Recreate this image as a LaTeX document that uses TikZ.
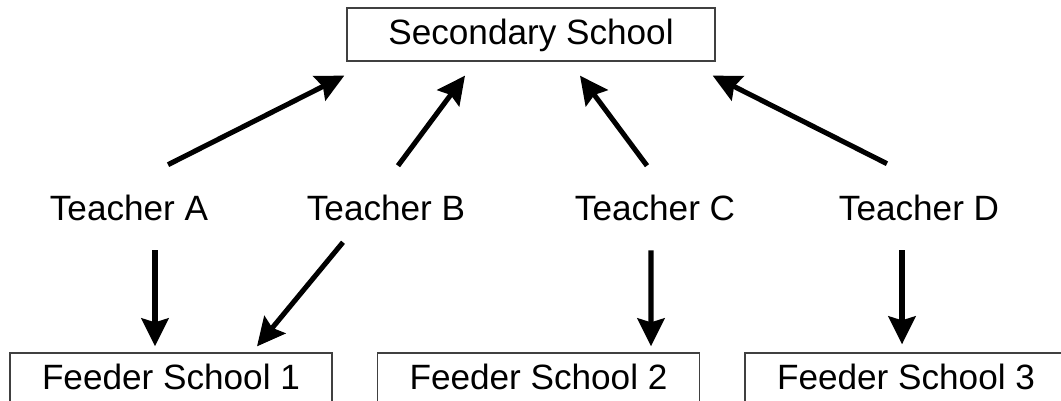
\documentclass[tikz,border=0pt]{standalone}
\usepackage{fontspec}
\setmainfont{Liberation Sans}
\usetikzlibrary{arrows.meta}

\begin{document}
\begin{tikzpicture}[
    x=0.025cm, y=-0.025cm,
    schoolbox/.style={rectangle, draw=black!75, line width=0.9pt, minimum height=1.325cm, inner sep=0pt, text height=0.65cm, text depth=0.15cm, font=\fontsize{25}{30}\selectfont},
    teacher/.style={inner sep=0pt, text height=0.65cm, text depth=0pt, anchor=base, font=\fontsize{25}{30}\selectfont},
    link/.style={-{Stealth[length=0.7cm, width=0.68cm, inset=0.1cm]}, line width=3.6pt}
    ]
    \useasboundingbox (0,0) rectangle (1061,401);
    %Nodes
    \node[schoolbox, minimum width=9.2cm]  (secondary) at (531,34.5)  {Secondary School};
    \node[teacher] (teacherA) at (129,220) {Teacher A};
    \node[teacher] (teacherB) at (386,220) {Teacher B};
    \node[teacher] (teacherC) at (655,220) {Teacher C};
    \node[teacher] (teacherD) at (919,220) {Teacher D};
    \node[schoolbox, minimum width=8.05cm] (feeder1) at (171,379.5)   {Feeder School 1};
    \node[schoolbox, minimum width=8.05cm] (feeder2) at (538.5,379.5) {Feeder School 2};
    \node[schoolbox, minimum width=8.05cm] (feeder3) at (906,379.5)   {Feeder School 3};

    %Lines
    \draw[link] ([shift={(39,-29)}]teacherA.north) -- ([shift={(-2,14)}]secondary.south west);
    \draw[link] ([shift={(12,-28)}]teacherB.north) -- ([shift={(-66,14)}]secondary.south);
    \draw[link] ([shift={(-8,-28)}]teacherC.north) -- ([shift={(49,14)}]secondary.south);
    \draw[link] ([shift={(-32,-30)}]teacherD.north) -- ([shift={(-3,14)}]secondary.south east);
    \draw[link] ([shift={(26,30)}]teacherA.south) -- ([shift={(-16,-6)}]feeder1.north);
    \draw[link] ([shift={(-43,22)}]teacherB.south) -- ([shift={(86,-6)}]feeder1.north);
    \draw[link] ([shift={(-4,30)}]teacherC.south) -- ([shift={(112.5,-6)}]feeder2.north);
    \draw[link] ([shift={(-17,30)}]teacherD.south) -- ([shift={(-4,-8)}]feeder3.north);
\end{tikzpicture}
\end{document}
